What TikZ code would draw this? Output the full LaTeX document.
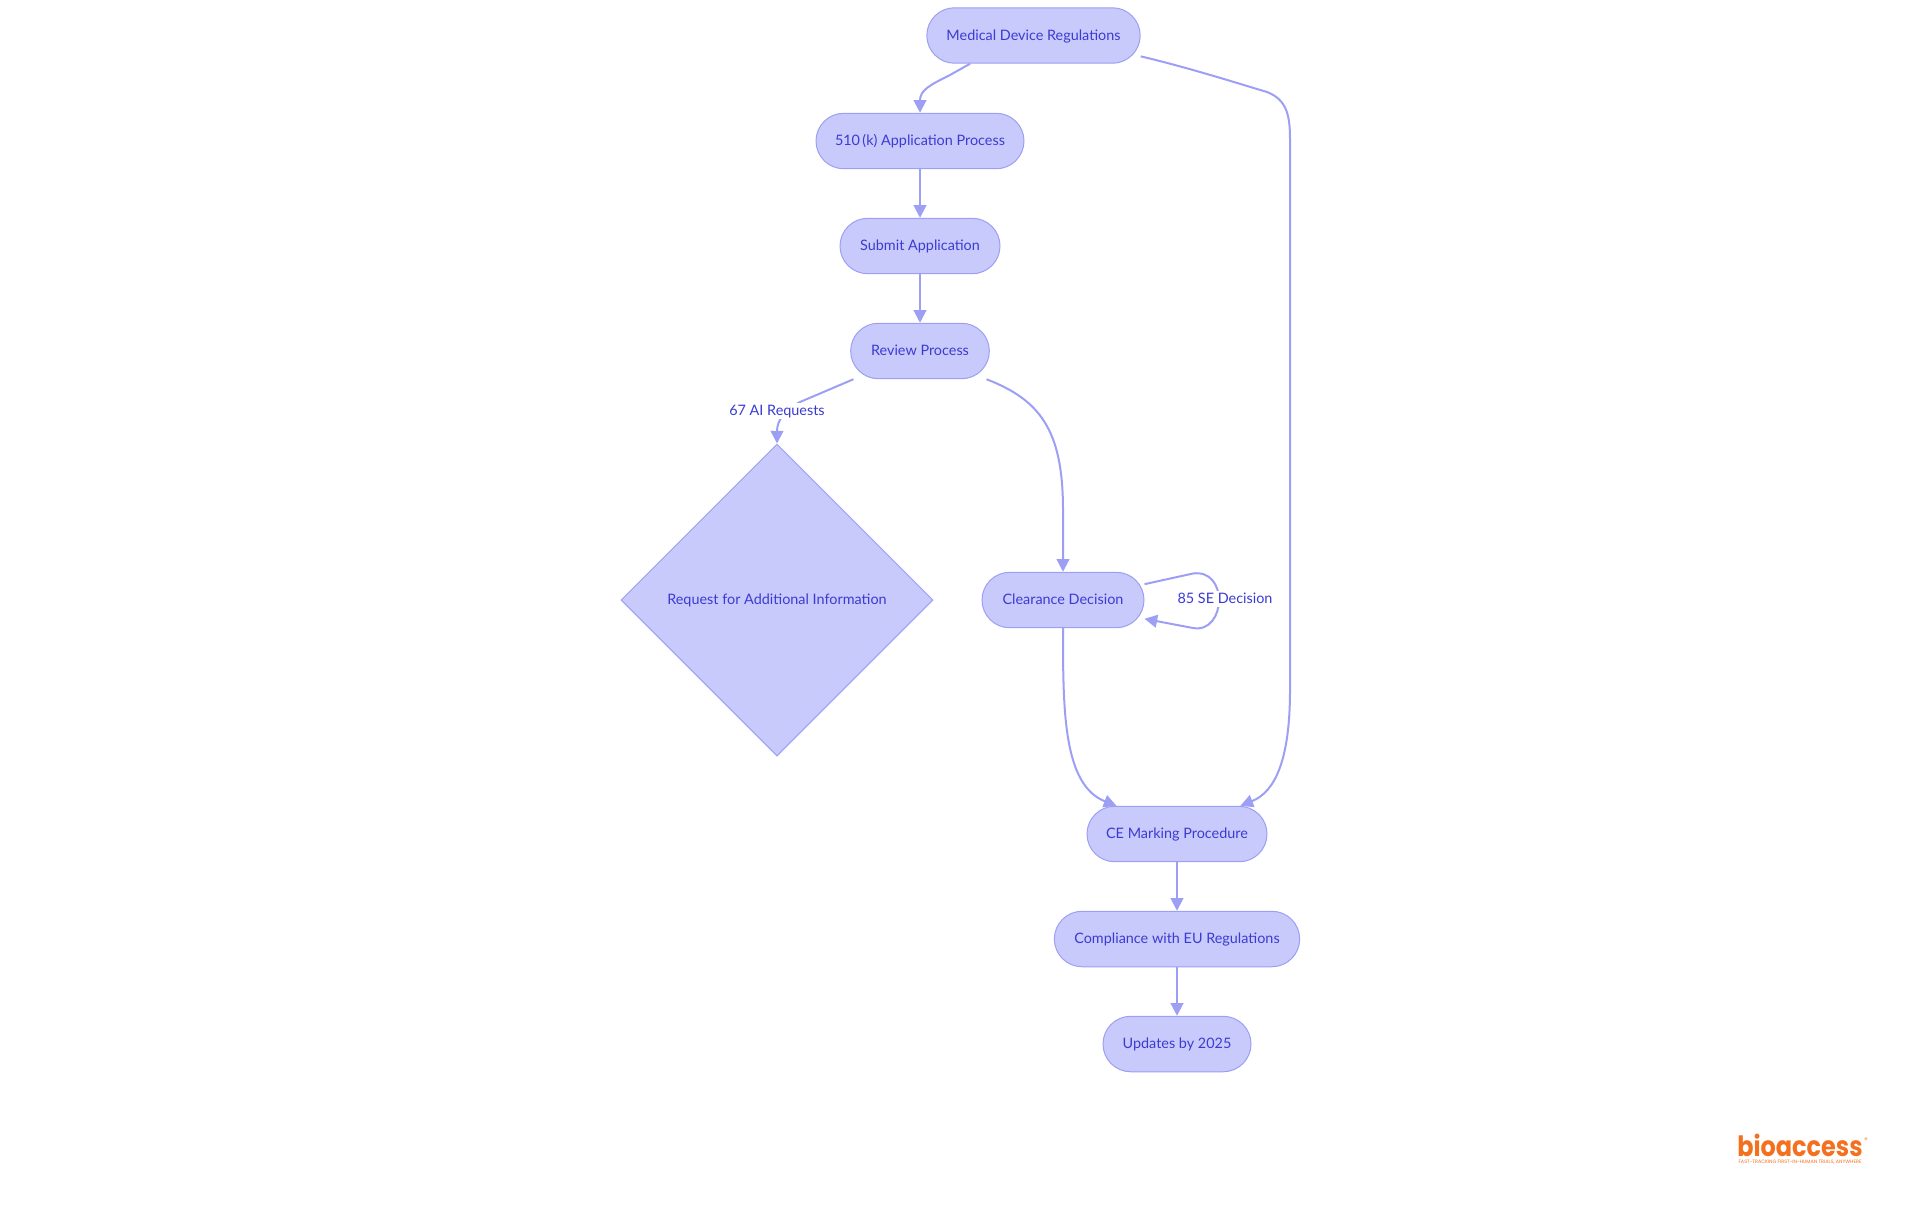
\documentclass[tikz,border=0pt]{standalone}
\usepackage{fontspec}
\setmainfont{Lato}
\newfontfamily\logofont{Poppins}
\usetikzlibrary{shapes.geometric}
\usetikzlibrary{arrows.meta}
\definecolor{boxfill}{HTML}{C8CAFC}
\definecolor{boxline}{HTML}{9C9FF3}
\definecolor{boxtext}{HTML}{3B3BD2}
\definecolor{logoorange}{HTML}{F4701E}
\tikzset{
  stepbox/.style={draw=boxline,fill=boxfill,text=boxtext,line width=0.75pt,rounded corners=20.8pt,
    minimum height=41.6pt,inner sep=0pt,text height=9.5pt,text depth=2.5pt,font=\fontsize{10.8}{14}\selectfont},
  flowline/.style={draw=boxline,line width=1.5pt,-{Triangle[length=9.5pt,width=9.5pt]}},
  flowlabel/.style={fill=white,text=boxtext,inner xsep=0pt,inner ysep=0pt,text height=9.5pt,text depth=2.5pt,
    font=\fontsize{10.8}{14}\selectfont}
}
\begin{document}
\begin{tikzpicture}[x=0.75pt,y=-0.75pt]
\useasboundingbox (0,0) rectangle (1920,1215);
\node[stepbox,minimum width=160pt] (regs) at (1033.5,35.5) {Medical Device Regulations};
\node[stepbox,minimum width=156pt] (app) at (920,141) {510\,(k) Application Process};
\node[stepbox,minimum width=120pt] (submit) at (920,246) {Submit Application};
\node[stepbox,minimum width=104pt] (review) at (920,351) {Review Process};
\node[diamond,shape aspect=1,draw=boxline,fill=boxfill,text=boxtext,line width=0.75pt,inner sep=0pt,
  minimum width=234pt,minimum height=234pt,text height=9.5pt,text depth=2.5pt,
  font=\fontsize{10.8}{14}\selectfont] (rfi) at (777,600) {Request for Additional Information};
\node[stepbox,minimum width=121.5pt] (clearance) at (1063,600) {Clearance Decision};
\node[stepbox,minimum width=135pt] (ce) at (1177,834) {CE Marking Procedure};
\node[stepbox,minimum width=184pt] (eu) at (1177,939) {Compliance with EU Regulations};
\node[stepbox,minimum width=111pt] (updates) at (1177,1044) {Updates by 2025};

\draw[flowline] (regs.204.8) -- (950,75) .. controls (930,85) and (920,90) .. (app.north);
\draw[flowline] (regs.-11.7) .. controls (1190,68) and (1240,84) .. (1267,92)
  .. controls (1288,100) and (1290,118) .. (1290,140) -- (1290,690)
  .. controls (1290,760) and (1275,792) .. (ce.24.7);
\draw[flowline] (app) -- (submit);
\draw[flowline] (submit) -- (review);
\draw[flowline] (review.203) -- (800,402) .. controls (785,410) and (777,420) .. (rfi.north);
\draw[flowline] (review.-23) .. controls (1040,400) and (1063,430) .. (1063,510) -- (clearance.north);
\draw[flowline] (clearance.11.2) -- (1193,573.5) .. controls (1210,571) and (1219,585) .. (1219,600)
  .. controls (1219,615) and (1210,631) .. (1193,628) -- (clearance.-13.2);
\draw[flowline] (clearance) .. controls (1063,710) and (1063,785) .. (ce.155.3);
\draw[flowline] (ce) -- (eu);
\draw[flowline] (eu) -- (updates);

\node[flowlabel] (airequests) at (777,411) {67 AI Requests};
\node[flowlabel] (sedecision) at (1225,599) {85 SE Decision};

\node[text=logoorange,inner sep=0pt,anchor=base,xscale=0.855,text depth=0pt,font=\logofont\bfseries\fontsize{21}{24}\selectfont] (logo) at (1800,1156) {bioaccess};
\node[text=logoorange,inner sep=0pt,font=\logofont\fontsize{3.65}{4}\selectfont] (tagline) at (1800,1162.5) {FAST-TRACKING FIRST-IN-HUMAN TRIALS, ANYWHERE};
\node[text=logoorange,inner sep=0pt,font=\logofont\fontsize{5}{6}\selectfont] (regmark) at (1866,1140) {®};
\end{tikzpicture}
\end{document}
